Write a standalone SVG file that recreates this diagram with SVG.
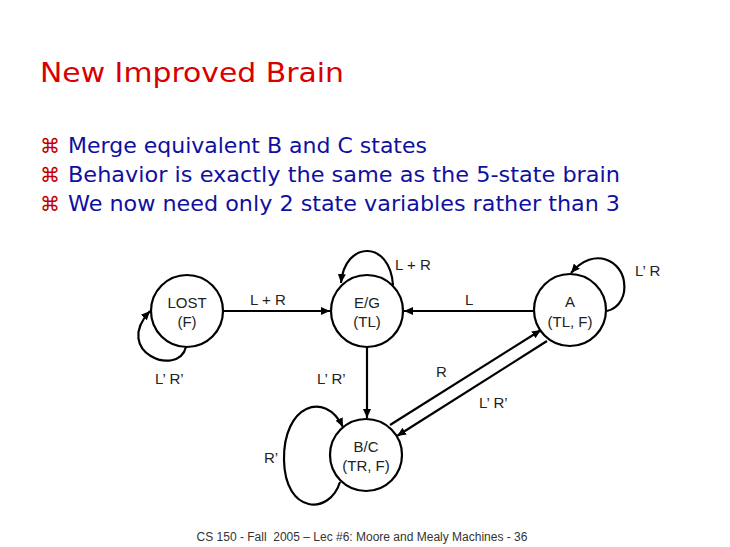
<svg xmlns="http://www.w3.org/2000/svg" width="730" height="547" viewBox="0 0 730 547">
<style>
.title{font-family:"DejaVu Sans","Liberation Sans",sans-serif;font-size:27px;fill:#d80000}
.bul{font-family:"DejaVu Sans","Liberation Sans",sans-serif;font-size:20px;fill:#c00000}
.txt{font-family:"DejaVu Sans","Liberation Sans",sans-serif;font-size:21px;fill:#1010a0}
.st{fill:#fff;stroke:#000;stroke-width:2.2}
.nl{font-family:"Liberation Sans","DejaVu Sans",sans-serif;font-size:15px;fill:#222;text-anchor:middle}
.lb{font-family:"Liberation Sans","DejaVu Sans",sans-serif;font-size:15px;fill:#222}
.e{fill:none;stroke:#000;stroke-width:2.2}
.ft{font-family:"Liberation Sans","DejaVu Sans",sans-serif;font-size:12px;fill:#333;text-anchor:middle;white-space:pre}
</style>
<defs>
<marker id="ah" markerWidth="10" markerHeight="8" refX="9" refY="4" orient="auto" markerUnits="userSpaceOnUse">
<path d="M0,0 L9,4 L0,8 z" fill="#000"/>
</marker>
</defs>
<rect width="730" height="547" fill="#fff"/>
<text class="title" x="40" y="82" textLength="304" lengthAdjust="spacingAndGlyphs">New Improved Brain</text>
<g id="bullets">
<text class="bul" x="40" y="153">⌘</text>
<text class="txt" x="68" y="153" textLength="359" lengthAdjust="spacingAndGlyphs">Merge equivalent B and C states</text>
<text class="bul" x="40" y="182">⌘</text>
<text class="txt" x="68" y="182" textLength="552" lengthAdjust="spacingAndGlyphs">Behavior is exactly the same as the 5-state brain</text>
<text class="bul" x="40" y="211">⌘</text>
<text class="txt" x="68" y="211" textLength="552" lengthAdjust="spacingAndGlyphs">We now need only 2 state variables rather than 3</text>
</g>
<g id="connectors">
<path class="e" d="M223 311 L330 311" marker-end="url(#ah)"/>
<path class="e" d="M186 347 C178 378,112 352,150 311" marker-end="url(#ah)"/>
<path class="e" d="M393 285 C390 240,345 240,341 283" marker-end="url(#ah)"/>
<path class="e" d="M534 311 L404 311" marker-end="url(#ah)"/>
<path class="e" d="M367 347 L367 418" marker-end="url(#ah)"/>
<path class="e" d="M390 425 L541 330" marker-end="url(#ah)"/>
<path class="e" d="M547 341 L397 436" marker-end="url(#ah)"/>
<path class="e" d="M607 311 C620 308,626 295,624 282 C622 262,595 245,571 273" marker-end="url(#ah)"/>
<path class="e" d="M340 482 C330 515,285 515,284 460 C283 405,325 390,343 427" marker-end="url(#ah)"/>
</g>
<g id="labels">
<text class="lb" x="250" y="305">L + R</text>
<text class="lb" x="395" y="270">L + R</text>
<text class="lb" x="465" y="305">L</text>
<text class="lb" x="155" y="384">L’ R’</text>
<text class="lb" x="317" y="384">L’ R’</text>
<text class="lb" x="436" y="377">R</text>
<text class="lb" x="479" y="408">L’ R’</text>
<text class="lb" x="635" y="276">L’ R</text>
<text class="lb" x="264" y="463">R’</text>
</g>
<g id="lost">
<circle class="st" cx="187" cy="311" r="36"/>
<text class="nl" x="187" y="308">LOST</text>
<text class="nl" x="187" y="327">(F)</text>
</g>
<g id="eg">
<circle class="st" cx="367" cy="311" r="36"/>
<text class="nl" x="367" y="308">E/G</text>
<text class="nl" x="367" y="327">(TL)</text>
</g>
<g id="a">
<circle class="st" cx="570" cy="310" r="36"/>
<text class="nl" x="570" y="307">A</text>
<text class="nl" x="570" y="327">(TL, F)</text>
</g>
<g id="bc">
<circle class="st" cx="366" cy="455" r="36"/>
<text class="nl" x="366" y="452">B/C</text>
<text class="nl" x="366" y="471">(TR, F)</text>
</g>
<text class="ft" x="362" y="541" xml:space="preserve">CS 150 - Fall  2005 – Lec #6: Moore and Mealy Machines - 36</text>
</svg>
